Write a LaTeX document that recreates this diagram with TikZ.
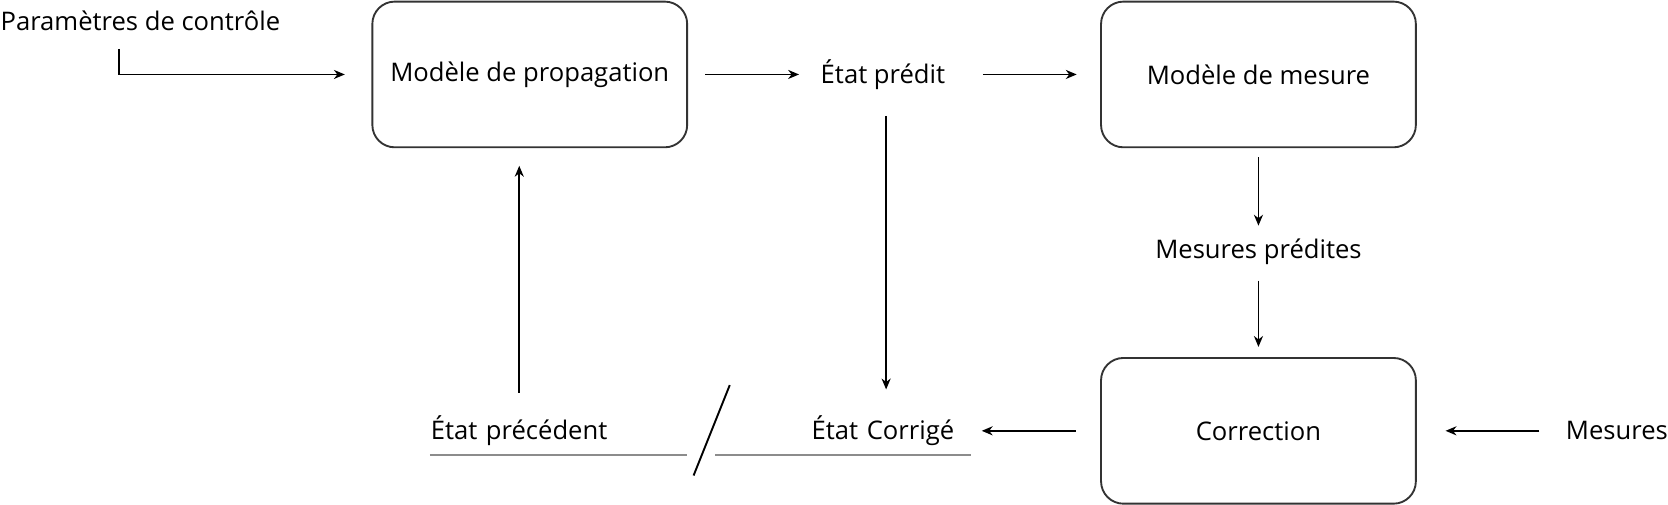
\documentclass[tikz,border=0pt]{standalone}
\usepackage{fontspec}
\setmainfont{Open Sans}
\usetikzlibrary{arrows.meta}

\begin{document}
\begin{tikzpicture}[x=0.02cm,y=-0.02cm,>={Stealth[length=5.8pt,width=4.8pt,inset=1.8pt]},
line width=1pt,font=\fontsize{13.7}{16}\selectfont,
bloc/.style={draw=black!80,rounded corners=0.42cm,minimum width=5.92cm,minimum height=2.74cm,inner sep=0pt},
etiq/.style={inner sep=0pt,minimum height=0.88cm},
trait/.style={draw=black!45,line width=1.3pt}]
\useasboundingbox (0,0) rectangle (1568,474.7);
\node[bloc] (prop) at (498,70) {Modèle de propagation};
\node[bloc] (mmes) at (1183,70) {Modèle de mesure};
\node[bloc] (corr) at (1183,405) {Correction};
\node[etiq] (ctrl) at (132,20) {Paramètres de contrôle};
\node[etiq,minimum width=2.8cm] (pred) at (830,70) {État prédit};
\node[etiq] (mpred) at (1183,237) {Mesures prédites};
\node[etiq,minimum width=2cm] (mes) at (1520,405) {Mesures};
\node[etiq,text width=4.8cm,align=left] (prec) at (525,405) {État précédent};
\node[etiq,text width=4.18cm,inner xsep=0.3cm,align=right] (corr2) at (792.5,405) {État Corrigé};
% boucle du filtre
\draw[->,shorten <=0.06cm,shorten >=0.5cm] ([xshift=-0.4cm]ctrl.south) |- (prop.west);
\path[->] (prop) edge[shorten <=0.32cm,shorten >=0.16cm] (pred);
\path[->] (pred) edge[shorten <=0.46cm,shorten >=0.44cm] (mmes);
\path[->] (mmes) edge[shorten <=0.17cm,shorten >=0.04cm] (mpred);
\path[->] (mpred) edge[shorten <=0.08cm,shorten >=0.19cm] (corr);
\path[->] (corr) edge[shorten <=0.46cm,shorten >=0.2cm] (corr2);
\path[->] (mes) edge[shorten <=0.44cm,shorten >=0.54cm] (corr);
\draw[->,shorten <=0.32cm,shorten >=0.32cm] ([xshift=0.06cm]pred.south) -- ([xshift=0.06cm]pred.south |- corr2.north);
\draw[->,shorten <=0.26cm,shorten >=0.33cm] ([xshift=1.68cm]prec.north west) -- ([xshift=1.68cm]prec.north west |- prop.south);
% soulignement et coupure
\draw[trait] (prec.south west) -- (prec.south east);
\draw[trait] (corr2.south west) -- (corr2.south east);
\draw (686,362) -- (652,447);
\end{tikzpicture}
\end{document}
